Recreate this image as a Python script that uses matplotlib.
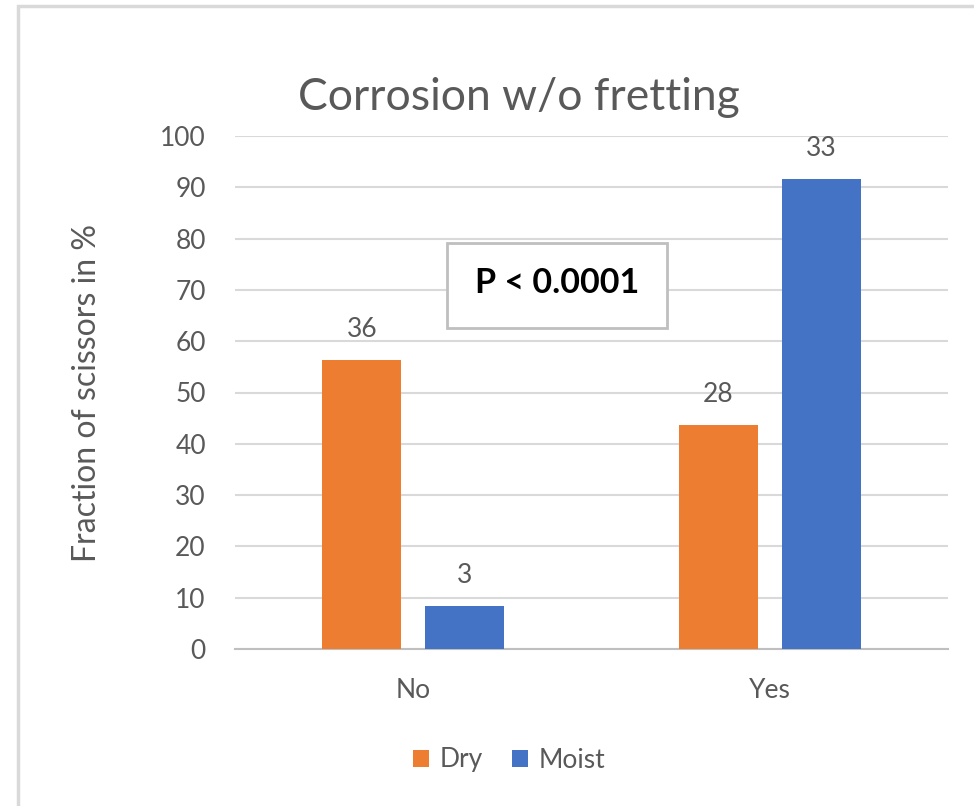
import matplotlib
matplotlib.use("Agg")
import matplotlib.pyplot as plt
from matplotlib.patches import Rectangle
import numpy as np

plt.rcParams['font.family'] = ['Lato', 'DejaVu Sans']

categories = ["No", "Yes"]
series_names = ["Dry", "Moist"]
dry_values = [56.25, 43.75]
moist_values = [8.33, 91.67]
dry_counts = ["36", "28"]
moist_counts = ["3", "33"]
y_ticks = [0, 10, 20, 30, 40, 50, 60, 70, 80, 90, 100]

W, H = 974, 806
fig = plt.figure(figsize=(W / 100, H / 100), dpi=100)
fig.patch.set_facecolor("white")

# outer chart border
fig.patches.append(Rectangle((18 / W, -0.01), 1.1, (H - 6) / H + 0.01, transform=fig.transFigure,
                             fill=False, edgecolor="#d9d9d9", linewidth=2.5))

ax = fig.add_axes([235 / W, 1 - 649 / H, (948 - 235) / W, (649 - 136) / H])
orange = "#ed7d31"
blue = "#4472c4"
gray = "#595959"

x = np.arange(len(categories))
bw = 0.222
off = 0.144
b1 = ax.bar(x - off, dry_values, bw, color=orange, label=series_names[0], zorder=3)
b2 = ax.bar(x + off, moist_values, bw, color=blue, label=series_names[1], zorder=3)

for rect, lab in zip(b1, dry_counts):
    ax.annotate(lab, (rect.get_x() + rect.get_width() / 2, rect.get_height()),
                xytext=(0, 13), textcoords="offset points", ha="center", va="bottom",
                fontsize=19, color=gray)
for rect, lab in zip(b2, moist_counts):
    ax.annotate(lab, (rect.get_x() + rect.get_width() / 2, rect.get_height()),
                xytext=(0, 13), textcoords="offset points", ha="center", va="bottom",
                fontsize=19, color=gray)

ax.set_xlim(-0.5, 1.5)
ax.set_ylim(0, 100)
ax.set_yticks(y_ticks)
ax.set_xticks(x)
ax.set_xticklabels(categories)
ax.tick_params(axis="both", length=0, labelsize=19, labelcolor=gray)
ax.tick_params(axis="y", pad=21)
ax.tick_params(axis="x", pad=21)
ax.grid(axis="y", color="#d9d9d9", linewidth=1.5, zorder=0)
for s in ["top", "right", "left"]:
    ax.spines[s].set_visible(False)
ax.spines["bottom"].set_color("#bfbfbf")
ax.spines["bottom"].set_linewidth(1.5)
ax.set_facecolor("white")

fig.text(519 / W, 1 - 97 / H, "Corrosion w/o fretting", ha="center", va="center",
         fontsize=32, color=gray)
fig.text(87 / W, 1 - 393 / H, "Fraction of scissors in %", ha="center", va="center",
         rotation=90, fontsize=23, color=gray)

# P-value box
fig.patches.append(Rectangle((447 / W, 1 - 328 / H), 220 / W, 85 / H, transform=fig.transFigure,
                             facecolor="white", edgecolor="#bfbfbf", linewidth=2, zorder=5))
fig.text(557 / W, 1 - 283 / H, "P < 0.0001", ha="center", va="center", fontsize=24.5,
         fontweight="bold", color="black", zorder=6)

fig.legend(handles=[b1, b2], labels=series_names, loc="center", bbox_to_anchor=(509 / W, 1 - 760 / H),
           ncol=2, frameon=False, fontsize=19, labelcolor=gray, handlelength=0.6, handleheight=0.6,
           handletextpad=0.4, columnspacing=1.1)

fig.savefig("out.png", dpi=100, facecolor="white")
